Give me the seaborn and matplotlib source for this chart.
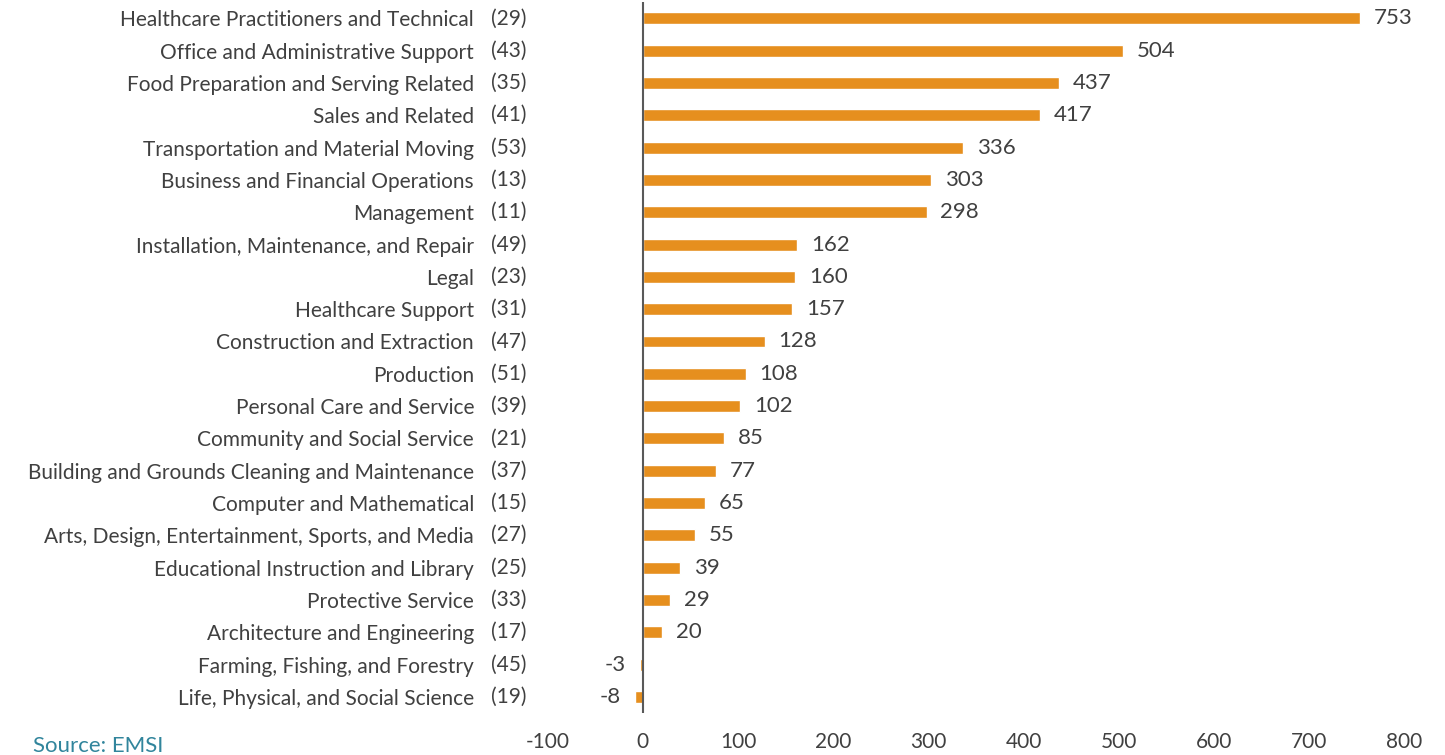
import pandas as pd
import matplotlib.pyplot as plt
import seaborn as sns

# Occupation groups, SOC codes and net change
occupations = [
    "Healthcare Practitioners and Technical",
    "Office and Administrative Support",
    "Food Preparation and Serving Related",
    "Sales and Related",
    "Transportation and Material Moving",
    "Business and Financial Operations",
    "Management",
    "Installation, Maintenance, and Repair",
    "Legal",
    "Healthcare Support",
    "Construction and Extraction",
    "Production",
    "Personal Care and Service",
    "Community and Social Service",
    "Building and Grounds Cleaning and Maintenance",
    "Computer and Mathematical",
    "Arts, Design, Entertainment, Sports, and Media",
    "Educational Instruction and Library",
    "Protective Service",
    "Architecture and Engineering",
    "Farming, Fishing, and Forestry",
    "Life, Physical, and Social Science",
]
codes = [29, 43, 35, 41, 53, 13, 11, 49, 23, 31, 47, 51, 39, 21, 37, 15, 27, 25, 33, 17, 45, 19]
change = [753, 504, 437, 417, 336, 303, 298, 162, 160, 157, 128, 108, 102, 85, 77, 65, 55, 39, 29, 20, -3, -8]
x_ticks = [-100, 0, 100, 200, 300, 400, 500, 600, 700, 800]

df = pd.DataFrame({"occupation": occupations, "code": codes, "change": change})

sns.set_style("white")
plt.rcParams["font.family"] = ["Lato", "DejaVu Sans"]

text_color = "#404040"
bar_color = "#E68F1E"

fig = plt.figure(figsize=(14.45, 7.55), dpi=100)
ax = fig.add_axes([0.379, 0.0556, 0.593, 0.9414])

sns.barplot(data=df, x="change", y="occupation", orient="h",
            color=bar_color, width=0.37, saturation=1, ax=ax)

ax.set_xlim(-100, 800)
ax.set_ylim(len(occupations) - 0.5, -0.5)
ax.set_xticks(x_ticks)
ax.set_xticklabels([str(t) for t in x_ticks], fontsize=15, color=text_color)
ax.set_yticks(range(len(occupations)))
ax.set_yticklabels(occupations, fontsize=15, color=text_color)
ax.tick_params(axis="y", length=0, pad=53)
ax.tick_params(axis="x", length=0, pad=14)
ax.set_xlabel("")
ax.set_ylabel("")

for s in ax.spines.values():
    s.set_visible(False)
ax.axvline(0, color="#595959", linewidth=1.5)

# SOC codes next to the names
for i, c in enumerate(codes):
    ax.text(-0.0245, i, f"({c})", transform=ax.get_yaxis_transform(),
            ha="right", va="center", fontsize=15, color=text_color)

ax.bar_label(ax.containers[0], padding=10, fontsize=16, color=text_color)

fig.text(0.023, 0.004, "Source: EMSI", fontsize=16, color="#31859C")

plt.savefig("out.png", dpi=100)
